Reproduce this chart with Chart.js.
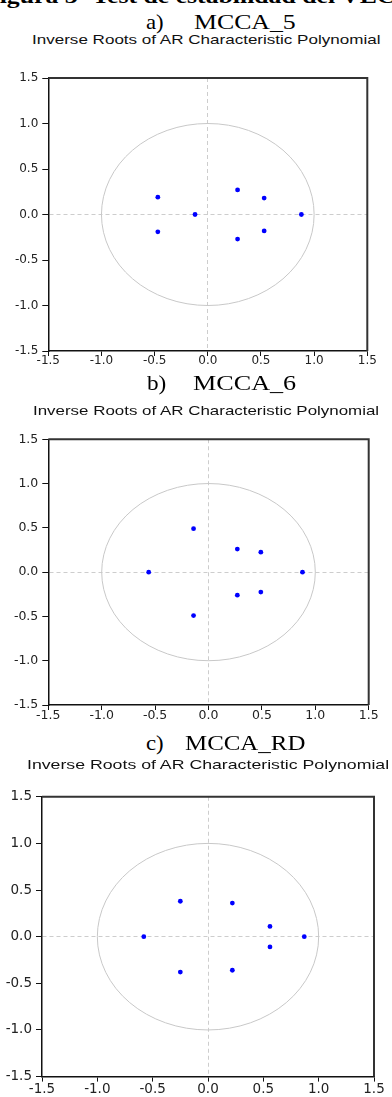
<!DOCTYPE html>
<html><head><meta charset="utf-8">
<script src="https://cdn.jsdelivr.net/npm/chart.js@4.4.1/dist/chart.umd.min.js"></script>
<style>
html,body{margin:0;padding:0;background:#fff;}
body{width:392px;height:1097px;overflow:hidden;position:relative;}
.t{position:absolute;white-space:nowrap;line-height:1;color:#000;transform-origin:0 0;}
.serif{font-family:"Liberation Serif","Times New Roman",serif;font-size:22px;}
.sans{font-family:"Liberation Sans",Arial,sans-serif;font-size:12.6px;color:#111;}
canvas{position:absolute;left:0;}
</style></head><body>
<div class="t serif" id="fig" style="font-weight:bold">Figura 3- Test de estabilidad del VEC</div>
<div id="ha"><span class="t serif" id="ha1">a)</span><span class="t serif" id="ha2">MCCA_5</span></div>
<div class="t sans" id="sa">Inverse Roots of AR Characteristic Polynomial</div>
<canvas id="ca"></canvas>
<div id="hb"><span class="t serif" id="hb1">b)</span><span class="t serif" id="hb2">MCCA_6</span></div>
<div class="t sans" id="sb">Inverse Roots of AR Characteristic Polynomial</div>
<canvas id="cb"></canvas>
<div id="hc"><span class="t serif" id="hc1">c)</span><span class="t serif" id="hc2">MCCA_RD</span></div>
<div class="t sans" id="sc">Inverse Roots of AR Characteristic Polynomial</div>
<canvas id="cc"></canvas>
<script>
// ---- data ----
const TICK_LABELS = ['-1.5', '-1.0', '-0.5', '0.0', '0.5', '1.0', '1.5'];
const AXIS_MIN = -1.5, AXIS_MAX = 1.5, AXIS_STEP = 0.5;
const UNIT_CIRCLE_RADIUS = 1;

const MCCA5_RE = [-0.47, -0.47, -0.12, 0.28, 0.28, 0.53, 0.53, 0.88];
const MCCA5_IM = [0.19, -0.19, 0.00, 0.27, -0.27, 0.18, -0.18, 0.00];

const MCCA6_RE = [-0.14, -0.14, -0.56, 0.27, 0.27, 0.49, 0.49, 0.88];
const MCCA6_IM = [0.49, -0.49, 0.00, 0.26, -0.26, 0.225, -0.225, 0.00];

const MCCARD_RE = [-0.25, -0.25, -0.58, 0.22, 0.22, 0.56, 0.56, 0.87];
const MCCARD_IM = [0.38, -0.38, 0.00, 0.36, -0.36, 0.11, -0.11, 0.00];

// ---- text placement ----
function place(id, left, right, baseline, asc, fixedScale) {
  const el = document.getElementById(id);
  const fs = parseFloat(getComputedStyle(el).fontSize);
  const w = el.offsetWidth;
  const s = fixedScale || ((right - left) / w);
  el.style.left = left + 'px';
  el.style.top = (baseline - asc * fs) + 'px';
  el.style.transform = 'scaleX(' + s + ')';
}
const SERIF_ASC = 0.8375, SANS_ASC = 0.8465;
place('fig', -15.7, null, 3, SERIF_ASC, 1.17);
place('ha1', 145.7, 163.3, 29.3, SERIF_ASC);
place('ha2', 194, 296, 29.3, SERIF_ASC);
place('sa', 31.7, 380.7, 45, SANS_ASC);
place('hb1', 146.7, 165.7, 390, SERIF_ASC);
place('hb2', 193.3, 296.7, 390, SERIF_ASC);
place('sb', 33.3, 380, 415.7, SANS_ASC);
place('hc1', 145.7, 163.3, 750, SERIF_ASC);
place('hc2', 185, 305, 750, SERIF_ASC);
document.getElementById('sc').style.fontSize = '13px';
place('sc', 26.7, 389, 769, SANS_ASC);

// ---- charts ----
const circlePlugin = {
  id: 'unitCircle',
  beforeDatasetsDraw(chart) {
    const {ctx} = chart, x = chart.scales.x, y = chart.scales.y;
    const cx = x.getPixelForValue(0), cy = y.getPixelForValue(0);
    const rx = x.getPixelForValue(UNIT_CIRCLE_RADIUS) - cx;
    const ry = cy - y.getPixelForValue(UNIT_CIRCLE_RADIUS);
    ctx.save();
    ctx.strokeStyle = '#c8c8c8';
    ctx.lineWidth = 1;
    ctx.beginPath();
    ctx.ellipse(cx, cy, rx, ry, 0, 0, Math.PI * 2);
    ctx.stroke();
    ctx.restore();
  }
};
const framePlugin = {
  id: 'frame',
  afterDraw(chart) {
    const {ctx, chartArea: a} = chart;
    ctx.save();
    ctx.strokeStyle = '#333';
    ctx.lineWidth = 2;
    ctx.beginPath();
    ctx.moveTo(a.left, a.top);
    ctx.lineTo(a.right, a.top);
    ctx.lineTo(a.right, a.bottom);
    ctx.stroke();
    ctx.restore();
  }
};

function axis(fs, isX, L) {
  return {
    type: 'linear', min: AXIS_MIN, max: AXIS_MAX,
    ticks: {
      stepSize: AXIS_STEP, autoSkip: false, maxRotation: 0,
      font: {family: 'DejaVu Sans', size: fs, lineHeight: 1},
      color: '#222',
      padding: isX ? L.xpad : 4,
      callback: (v, i) => TICK_LABELS[i]
    },
    grid: {
      color: c => (c.tick && c.tick.value === 0) ? '#cdcdcd' : 'rgba(0,0,0,0)',
      lineWidth: 1, tickColor: '#111', tickLength: isX ? 5 : 6, tickWidth: 1
    },
    border: {display: true, color: '#111', width: 1.5, dash: [4, 3]},
    afterFit: s => { if (isX) s.height = 18; else s.width = L.plotL; }
  };
}

function makePanel(id, L, re, im) {
  const cv = document.getElementById(id);
  const top = L.plotT - 10;
  const h = (L.plotB - L.plotT) + 30;
  cv.width = 392; cv.height = Math.ceil(h);
  cv.style.top = top + 'px';
  new Chart(cv, {
    type: 'scatter',
    data: {datasets: [{
      data: re.map((v, i) => ({x: v, y: im[i]})),
      backgroundColor: '#0000ff', borderWidth: 0, pointRadius: 2.4, pointHoverRadius: 2.4
    }]},
    options: {
      responsive: false, animation: false, devicePixelRatio: 1,
      layout: {padding: {left: 0, right: 392 - L.plotR, top: 10, bottom: Math.ceil(h) - (L.plotB - L.plotT) - 10 - 18}},
      plugins: {legend: {display: false}, tooltip: {enabled: false}, title: {display: false}},
      scales: {x: axis(L.fs, true, L), y: axis(L.fs, false, L)}
    },
    plugins: [circlePlugin, framePlugin]
  });
}

makePanel('ca', {plotL: 48.3, plotR: 367.3, plotT: 77.7, plotB: 350.7, fs: 12, xpad: -1}, MCCA5_RE, MCCA5_IM);
makePanel('cb', {plotL: 48.3, plotR: 368.7, plotT: 439, plotB: 705, fs: 12.5, xpad: -1}, MCCA6_RE, MCCA6_IM);
makePanel('cc', {plotL: 42, plotR: 374, plotT: 795.7, plotB: 1076.3, fs: 13.5, xpad: 1}, MCCARD_RE, MCCARD_IM);
</script>
</body></html>
